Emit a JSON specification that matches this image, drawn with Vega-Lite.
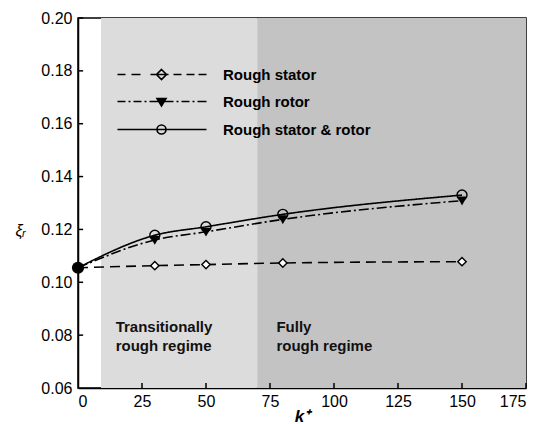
{
  "$schema": "https://vega.github.io/schema/vega-lite/v6.json",
  "width": 448,
  "height": 370,
  "autosize": {"type": "none"},
  "padding": {"left": 78, "top": 18, "right": 25, "bottom": 36},
  "background": "white",
  "config": {
    "view": {"stroke": "black", "strokeWidth": 1.5},
    "font": "Liberation Sans",
    "axis": {
      "grid": false,
      "zindex": 1,
      "domainColor": "black",
      "domainWidth": 1.5,
      "tickColor": "black",
      "tickWidth": 1.5,
      "labelFont": "Liberation Sans",
      "labelFontSize": 16,
      "labelColor": "black"
    }
  },
  "resolve": {"axis": {"x": "independent", "y": "independent"}},
  "datasets": {
    "curves": [
      {"series": "Rough stator", "k": 0, "xi": 0.1055},
      {"series": "Rough stator", "k": 30, "xi": 0.1063},
      {"series": "Rough stator", "k": 50, "xi": 0.1067},
      {"series": "Rough stator", "k": 80, "xi": 0.1073},
      {"series": "Rough stator", "k": 150, "xi": 0.1078},
      {"series": "Rough rotor", "k": 0, "xi": 0.1055},
      {"series": "Rough rotor", "k": 30, "xi": 0.116},
      {"series": "Rough rotor", "k": 50, "xi": 0.1191},
      {"series": "Rough rotor", "k": 80, "xi": 0.1238},
      {"series": "Rough rotor", "k": 150, "xi": 0.1309},
      {"series": "Rough stator & rotor", "k": 0, "xi": 0.1055},
      {"series": "Rough stator & rotor", "k": 30, "xi": 0.1178},
      {"series": "Rough stator & rotor", "k": 50, "xi": 0.121},
      {"series": "Rough stator & rotor", "k": 80, "xi": 0.1257},
      {"series": "Rough stator & rotor", "k": 150, "xi": 0.133}
    ],
    "regions": [
      {"region": "Transitional", "start": 9, "end": 70, "label": "Transitionally\nrough regime", "labelK": 14.7},
      {"region": "Fully rough", "start": 70, "end": 175, "label": "Fully\nrough regime", "labelK": 77.5}
    ],
    "xticks": [{"k": 25}, {"k": 50}, {"k": 75}, {"k": 100}, {"k": 125}, {"k": 150}, {"k": 175}],
    "yticks": [{"xi": 0.08}, {"xi": 0.1}, {"xi": 0.12}, {"xi": 0.14}, {"xi": 0.16}, {"xi": 0.18}, {"xi": 0.2}]
  },
  "layer": [
    {
      "data": {"name": "regions"},
      "mark": {"type": "rect", "strokeWidth": 0},
      "encoding": {
        "x": {"field": "start", "type": "quantitative", "scale": {"domain": [0, 175], "nice": false, "zero": false}, "axis": null},
        "x2": {"field": "end"},
        "y": {"datum": 0.06, "type": "quantitative", "axis": null},
        "y2": {"datum": 0.2},
        "fill": {"field": "region", "type": "nominal", "scale": {"domain": ["Transitional", "Fully rough"], "range": ["#dcdcdc", "#c3c3c3"]}, "legend": null}
      }
    },
    {
      "data": {"name": "regions"},
      "mark": {"type": "text", "align": "left", "baseline": "top", "lineBreak": "\n", "lineHeight": 19, "fontSize": 15, "fontWeight": "bold", "font": "Liberation Sans", "color": "#111111"},
      "encoding": {
        "x": {"field": "labelK", "type": "quantitative", "axis": null},
        "y": {"datum": 0.0857, "type": "quantitative", "axis": null},
        "text": {"field": "label"}
      }
    },
    {
      "data": {"name": "xticks"},
      "mark": {"type": "rule", "color": "black", "strokeWidth": 1.5},
      "encoding": {
        "x": {"field": "k", "type": "quantitative", "axis": null},
        "y": {"datum": 0.06, "type": "quantitative", "axis": null},
        "y2": {"datum": 0.0619}
      }
    },
    {
      "data": {"name": "yticks"},
      "mark": {"type": "rule", "color": "black", "strokeWidth": 1.5},
      "encoding": {
        "y": {"field": "xi", "type": "quantitative", "axis": null},
        "x": {"datum": 0, "type": "quantitative", "axis": null},
        "x2": {"datum": 2}
      }
    },
    {
      "data": {"name": "curves"},
      "mark": {"type": "line", "interpolate": "monotone", "color": "black", "strokeWidth": 1.6},
      "encoding": {
        "x": {"field": "k", "type": "quantitative", "scale": {"domain": [0, 175], "nice": false, "zero": false},
          "axis": {"orient": "bottom", "ticks": false, "values": [0, 25, 50, 75, 100, 125, 150, 175], "labelPadding": 5, "title": "k⁺", "titleFont": "Liberation Sans", "titleFontSize": 17, "titleFontStyle": "italic", "titleFontWeight": "bold", "titleY": 33, "titleBaseline": "alphabetic", "titleColor": "black"}},
        "y": {"field": "xi", "type": "quantitative", "scale": {"domain": [0.06, 0.2], "nice": false, "zero": false},
          "axis": {"orient": "left", "ticks": false, "values": [0.06, 0.08, 0.1, 0.12, 0.14, 0.16, 0.18, 0.2], "format": ".2f", "labelPadding": 6, "title": "ξᵣ", "titleAngle": 0, "titleX": -58, "titleY": 212, "titleAlign": "center", "titleBaseline": "middle", "titleFontSize": 16, "titleFontStyle": "italic", "titleFontWeight": "normal", "titleColor": "black"}},
        "detail": {"field": "series"},
        "strokeDash": {"field": "series", "type": "nominal", "scale": {"domain": ["Rough rotor", "Rough stator", "Rough stator & rotor"], "range": [[10, 3, 2, 3], [10, 6], [1, 0]]}, "legend": null}
      }
    },
    {
      "data": {"name": "curves"},
      "transform": [{"filter": "datum.k > 0"}],
      "mark": {"type": "point", "filled": true, "stroke": "black", "strokeWidth": 1.4, "opacity": 1},
      "encoding": {
        "x": {"field": "k", "type": "quantitative", "axis": null},
        "y": {"field": "xi", "type": "quantitative", "axis": null},
        "shape": {"condition": [{"test": "datum.series === 'Rough stator'", "value": "diamond"}, {"test": "datum.series === 'Rough rotor'", "value": "triangle-down"}], "value": "circle"},
        "fill": {"condition": [{"test": "datum.series === 'Rough rotor'", "value": "black"}, {"test": "datum.series === 'Rough stator & rotor'", "value": "transparent"}], "value": "white"},
        "size": {"condition": [{"test": "datum.series === 'Rough rotor'", "value": 60}, {"test": "datum.series === 'Rough stator & rotor'", "value": 100}], "value": 70}
      }
    },
    {
      "data": {"name": "curves"},
      "transform": [{"filter": "datum.k > 0"}],
      "mark": {"type": "point", "opacity": 0},
      "encoding": {
        "x": {"field": "k", "type": "quantitative", "axis": null},
        "y": {"field": "xi", "type": "quantitative", "axis": null},
        "shape": {"field": "series", "type": "nominal",
          "scale": {"domain": ["Rough stator", "Rough rotor", "Rough stator & rotor"],
            "range": [
              "M-44,0H-36M-30,0H-21M-11,0H7M12,0H20M25,0H33M37,0H45M0,-5L5,0L0,5L-5,0Z",
              "M-44,0H-36M-33,0H-31M-28,0H-20M-17,0H-15M-12,0H12M15,0H17M20,0H28M31,0H33M36,0H45M-4.5,-3L4.5,-3L0,4.5ZM-2.5,-1.8L2.5,-1.8L0,2.5ZM-1,-0.8L1,-0.8L0,1Z",
              "M-44,0H45M4.5,0A4.5,4.5 0 1,1 -4.5,0A4.5,4.5 0 1,1 4.5,0"
            ]},
          "legend": {
            "title": null,
            "orient": "none",
            "legendX": 76,
            "legendY": 49,
            "padding": 0,
            "symbolSize": 4,
            "labelOffset": 54,
            "rowPadding": 11,
            "labelFont": "Liberation Sans",
            "labelFontSize": 15,
            "labelFontWeight": "bold",
            "labelColor": "black",
            "labelLimit": 300,
            "symbolStrokeColor": "black",
            "symbolFillColor": "transparent",
            "symbolStrokeWidth": 1.6,
            "symbolOpacity": 1
          }
        }
      }
    },
    {
      "data": {"name": "curves"},
      "transform": [{"filter": "datum.k === 0 && datum.series === 'Rough stator'"}],
      "mark": {"type": "circle", "color": "black", "size": 150, "opacity": 1},
      "encoding": {
        "x": {"field": "k", "type": "quantitative", "axis": null},
        "y": {"field": "xi", "type": "quantitative", "axis": null}
      }
    }
  ]
}
